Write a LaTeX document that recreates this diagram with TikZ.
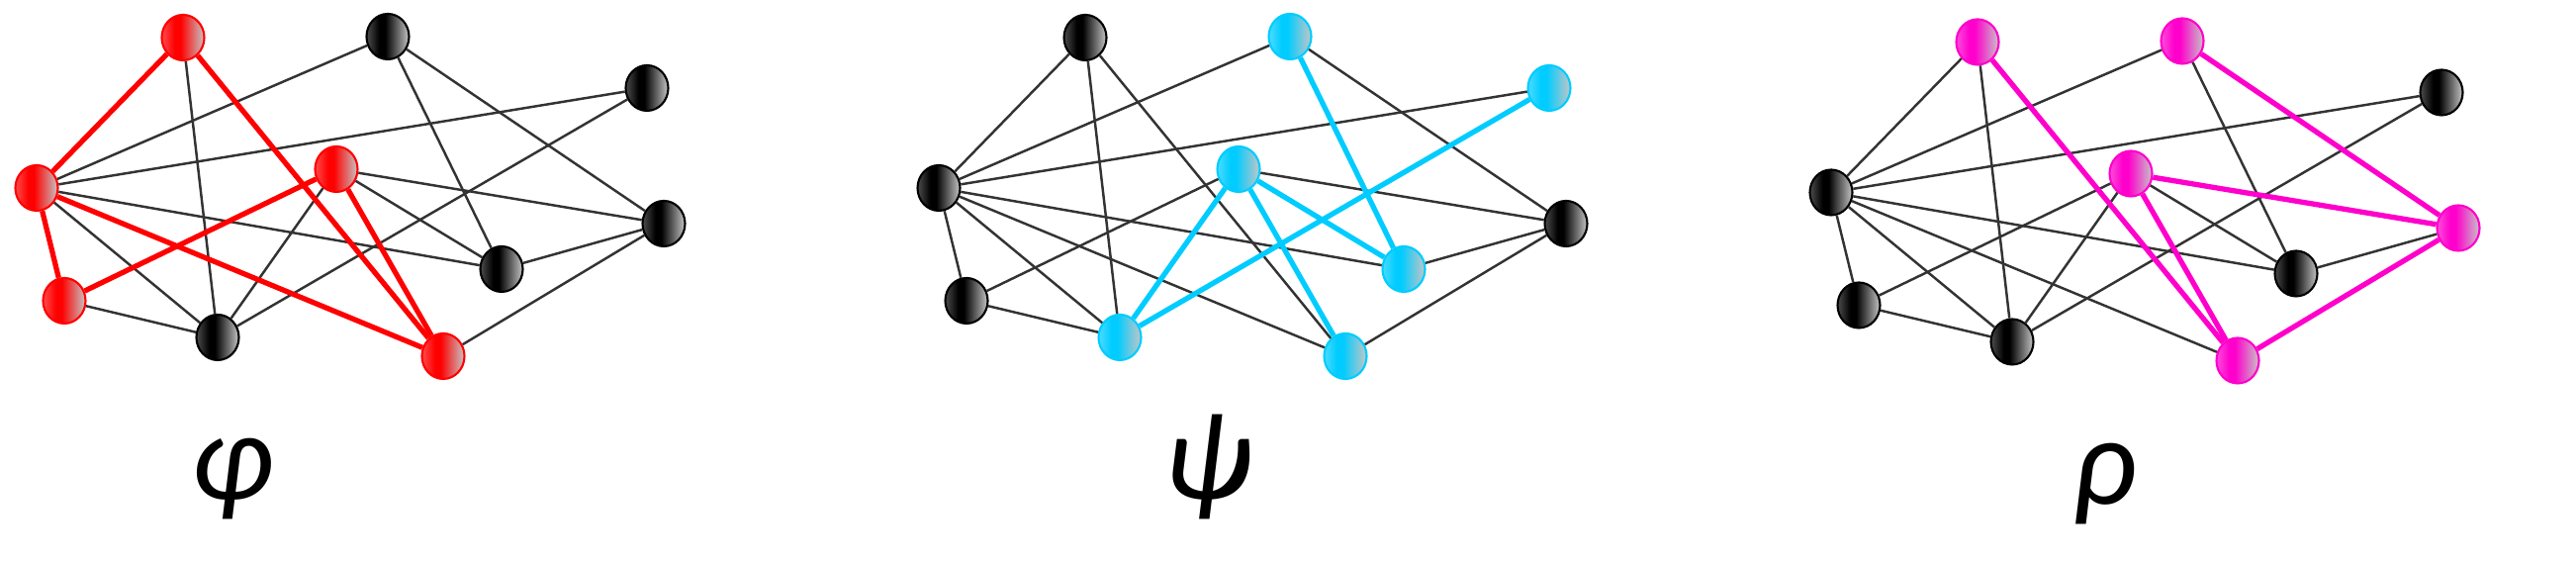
\documentclass[tikz,border=0pt]{standalone}
\usepackage{fontspec}
\usetikzlibrary{shapes.geometric}
\newfontfamily\letterfont{Carlito}
\definecolor{sky}{RGB}{0,204,255}
\definecolor{rose}{RGB}{255,0,204}
\newcommand{\ballshade}[1]{\pgfdeclarehorizontalshading{ball-#1}{100bp}{color(0bp)=(#1!70!white); color(25bp)=(#1!70!white); color(40bp)=(#1); color(47bp)=(#1); color(75bp)=(gray!45); color(100bp)=(gray!45)}}
\ballshade{black}
\ballshade{red}
\ballshade{sky}
\ballshade{rose}

\begin{document}
\begin{tikzpicture}
  \tikzset{ball/.style={ellipse, minimum width=0.43cm, minimum height=0.46cm, inner sep=0pt, draw=#1, line width=0.6pt, shading=ball-#1},
           wire/.style={draw=black!80, line width=0.7pt},
           hot/.style={draw=#1, line width=1.5pt},
           letter/.style={anchor=base, font=\letterfont\itshape\fontsize{36}{40}\selectfont}}
  \useasboundingbox (0,0) rectangle (26.04,5.70);
  % phi
  \foreach \n/\x/\y/\c in {A/1.85/5.32/red, B/3.92/5.33/black, C/6.54/4.81/black, D/0.37/3.80/red, E/3.40/3.99/red,
                           F/6.71/3.44/black, G/5.07/2.98/black, H/0.65/2.66/red, I/2.20/2.29/black, J/4.48/2.10/red}
    \node[ball=\c] (p\n) at (\x,\y) {};
  \foreach \a/\b in {A/I, B/D, B/G, B/F, C/D, C/I, D/G, D/I, E/F, E/G, E/I, H/I, F/G, F/J}
    \draw[wire] (p\a) -- (p\b);
  \foreach \a/\b in {A/D, A/J, D/H, D/J, E/H, E/J}
    \draw[hot=red] (p\a) -- (p\b);
  \node[letter] (phi) at (2.35,0.65) {φ};
  % psi
  \begin{scope}[xshift=9.12cm]
  \foreach \n/\x/\y/\c in {A/1.85/5.32/black, B/3.92/5.33/sky, C/6.54/4.81/sky, D/0.37/3.80/black, E/3.40/3.99/sky,
                           F/6.71/3.44/black, G/5.07/2.98/sky, H/0.65/2.66/black, I/2.20/2.29/sky, J/4.48/2.10/sky}
    \node[ball=\c] (s\n) at (\x,\y) {};
  \foreach \a/\b in {A/D, A/I, A/J, B/D, B/F, C/D, D/G, D/H, D/I, D/J, E/H, E/F, H/I, F/G, F/J}
    \draw[wire] (s\a) -- (s\b);
  \foreach \a/\b in {B/G, C/I, E/I, E/G, E/J}
    \draw[hot=sky] (s\a) -- (s\b);
  \node[letter] (psi) at (3.09,0.65) {ψ};
  \end{scope}
  % rho
  \begin{scope}[xshift=18.14cm, yshift=-0.045cm]
  \foreach \n/\x/\y/\c in {A/1.85/5.32/rose, B/3.92/5.33/rose, C/6.54/4.81/black, D/0.37/3.80/black, E/3.40/3.99/rose,
                           F/6.71/3.44/rose, G/5.07/2.98/black, H/0.65/2.66/black, I/2.20/2.29/black, J/4.48/2.10/rose}
    \node[ball=\c] (r\n) at (\x,\y) {};
  \foreach \a/\b in {A/D, A/I, B/D, B/G, C/D, C/I, D/G, D/H, D/I, D/J, E/H, E/I, E/G, H/I, F/G}
    \draw[wire] (r\a) -- (r\b);
  \foreach \a/\b in {A/J, B/F, E/F, E/J, F/J}
    \draw[hot=rose] (r\a) -- (r\b);
  \node[letter] (rho) at (3.14,0.65) {ρ};
  \end{scope}
\end{tikzpicture}
\end{document}
